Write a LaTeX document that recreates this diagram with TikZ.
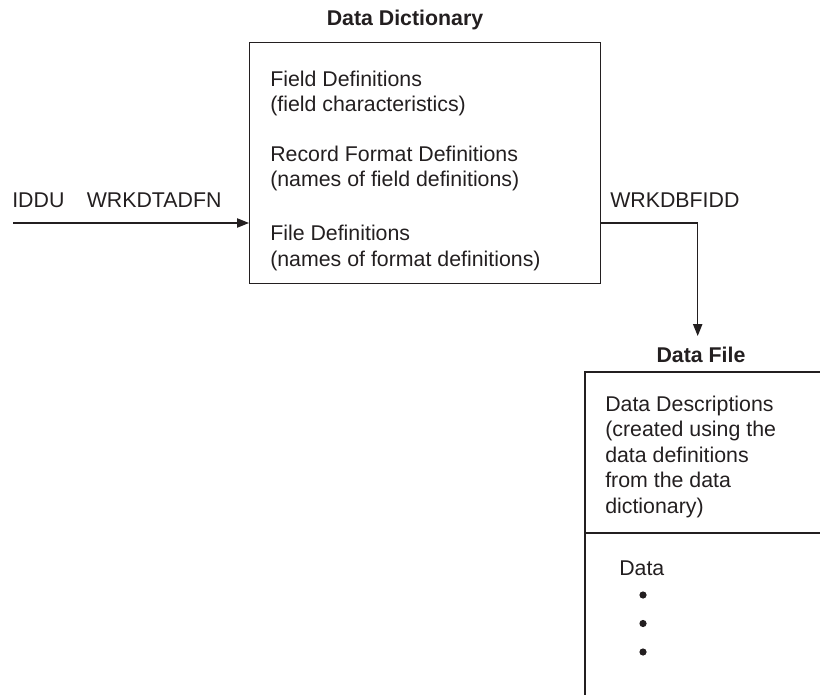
\documentclass[tikz,border=0pt]{standalone}
\usepackage{fontspec}
\setmainfont{Liberation Sans}
\usetikzlibrary{arrows.meta}
\definecolor{ink}{HTML}{231F20}
\begin{document}
\begin{tikzpicture}[x=0.75pt,y=-0.75pt,
  txt/.style={anchor=base west, inner sep=0pt, font=\fontsize{16}{19}\selectfont, text=ink},
  ttl/.style={anchor=base, inner sep=0pt, font=\fontsize{16}{19}\selectfont\bfseries, text=ink},
  ln/.style={draw=ink, line width=0.9pt},
  arr/.style={ln, -{Triangle[length=9pt,width=7pt]}},
  dot/.style={circle, fill=ink, inner sep=0pt, minimum size=5.4pt}]
\useasboundingbox (0,0) rectangle (820,695);
% Data Dictionary
\node[ttl] (ddtitle) at (405,26) {Data Dictionary};
\node[ln, anchor=north west, minimum width=263.25pt, minimum height=180.75pt, inner sep=0pt] (dict) at (249,42) {};
\node[txt] (f1) at (270,87) {Field Definitions};
\node[txt] (f2) at (270,112) {(field characteristics)};
\node[txt] (r1) at (270,162) {Record Format Definitions};
\node[txt] (r2) at (270,187) {(names of field definitions)};
\node[txt] (l1) at (270,241) {File Definitions};
\node[txt] (l2) at (270,266) {(names of format definitions)};
% input
\coordinate (in) at (13,223);
\node[txt] (lab1) at (12,208) {IDDU\hspace{1.05em}WRKDTADFN};
\draw[arr] (in) -- (in -| dict.west);
% output
\node[txt] (lab2) at (610,208) {WRKDBFIDD};
\coordinate (tip) at (697.7,336);
\draw[arr] (in -| dict.east) -| (tip);
% Data File
\node[ttl] (dftitle) at (701,362) {Data File};
\coordinate (dftl) at (585,372);
\coordinate (dftr) at (820,372);
\coordinate (dfml) at (585,533);
\coordinate (dfmr) at (820,533);
\coordinate (dfbl) at (585,695);
\draw[ln] (dftr) -- (dftl) -- (dfbl);
\draw[ln] (dfml) -- (dfmr);
\node[txt] (d1) at (605,411) {Data Descriptions};
\node[txt] (d2) at (605,436.5) {(created using the};
\node[txt] (d3) at (605,462) {data definitions};
\node[txt] (d4) at (605,487.5) {from the data};
\node[txt] (d5) at (605,513) {dictionary)};
\node[txt] (data) at (619,575) {Data};
\node[dot] (p1) at (643,595) {};
\node[dot] (p2) at (643,623.5) {};
\node[dot] (p3) at (643,652) {};
\end{tikzpicture}
\end{document}
